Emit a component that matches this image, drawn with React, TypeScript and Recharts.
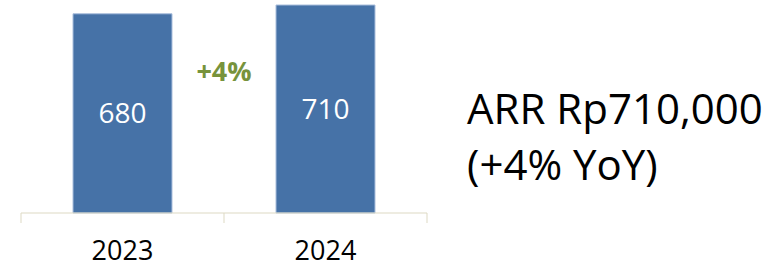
import { BarChart, Bar, XAxis, YAxis, LabelList } from "recharts";

const years = ["2023", "2024"];
const arrValues = [680, 710];
const growthLabel = "+4%";
const headline = "ARR Rp710,000";
const subline = "(+4% YoY)";

const data = years.map((year, i) => ({ year, arr: arrValues[i] }));

const CHART_W = 440;
const MARGIN_L = 21;
const MARGIN_R = 13;
const BAND = (CHART_W - MARGIN_L - MARGIN_R) / years.length;

const YearTick = ({ x, y, payload, index }: any) => {
  const left = x - BAND / 2;
  const right = x + BAND / 2;
  return (
    <g>
      <line x1={left} y1={y} x2={left} y2={y + 10} stroke="#DDD9C3" strokeWidth={1} />
      {index === years.length - 1 && (
        <line x1={right} y1={y} x2={right} y2={y + 10} stroke="#DDD9C3" strokeWidth={1} />
      )}
      <text x={x} y={y + 47} textAnchor="middle" fill="#000" fontSize={27}>
        {payload.value}
      </text>
    </g>
  );
};

export default function App() {
  return (
    <div
      style={{
        position: "fixed",
        left: 0,
        top: 0,
        width: 777,
        height: 268,
        background: "#fff",
        fontFamily: "'Open Sans', sans-serif",
      }}
    >
      <BarChart
        width={CHART_W}
        height={268}
        data={data}
        margin={{ top: 5, right: MARGIN_R, left: MARGIN_L, bottom: 0 }}
        barSize={99}
      >
        <XAxis
          dataKey="year"
          axisLine={{ stroke: "#DDD9C3", strokeWidth: 1 }}
          tickLine={false}
          tickSize={0}
          tickMargin={0}
          height={55}
          interval={0}
          tick={<YearTick />}
        />
        <YAxis hide domain={[0, "dataMax"]} />
        <Bar dataKey="arr" fill="#4672A7" stroke="#A9BEDC" strokeWidth={1} isAnimationActive={false}>
          <LabelList dataKey="arr" position="center" fill="#fff" fontSize={28} />
        </Bar>
      </BarChart>
      <div
        style={{
          position: "absolute",
          left: 224 - 45,
          width: 90,
          top: 53,
          textAlign: "center",
          color: "#77933C",
          fontWeight: 700,
          fontSize: 27,
          lineHeight: "36px",
        }}
      >
        {growthLabel}
      </div>
      <div
        style={{
          position: "absolute",
          left: 467,
          top: 80,
          color: "#000",
          fontSize: 42,
          lineHeight: "56px",
          whiteSpace: "nowrap",
        }}
      >
        <div>{headline}</div>
        <div>{subline}</div>
      </div>
    </div>
  );
}
